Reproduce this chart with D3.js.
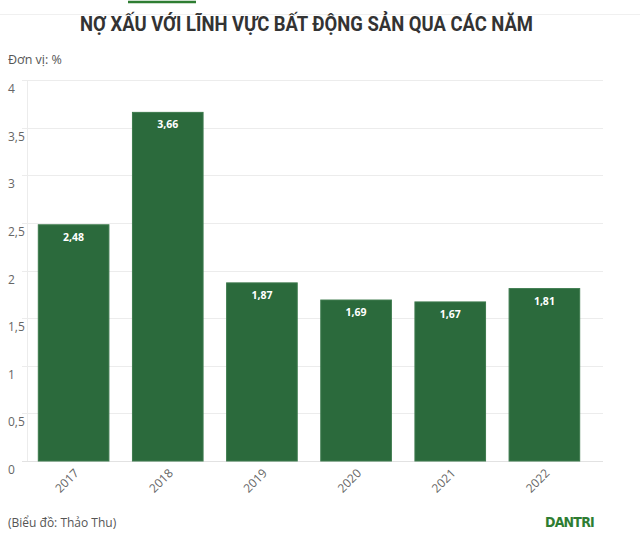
<!DOCTYPE html>
<html><head><meta charset="utf-8">
<script src="https://cdn.jsdelivr.net/npm/d3@7"></script>
<style>body{margin:0;background:#fff}svg{display:block}</style>
</head><body>
<svg id="c" width="640" height="535"></svg>
<script>
const categories = ["2017","2018","2019","2020","2021","2022"];
const values = [2.48,3.66,1.87,1.69,1.67,1.81];
const yTicks = [0,0.5,1,1.5,2,2.5,3,3.5,4];
const title = "NỢ XẤU VỚI LĨNH VỰC BẤT ĐỘNG SẢN QUA CÁC NĂM";

const svg = d3.select("#c");
const fmt = v => String(v).replace(".", ",");
const font = "'Open Sans', sans-serif";

// decorative top lines
svg.append("line").attr("x1",0).attr("x2",640).attr("y1",14.5).attr("y2",14.5).attr("stroke","#f0f0f0");
svg.append("line").attr("x1",128).attr("x2",196).attr("y1",2).attr("y2",2).attr("stroke","#2e7d32").attr("stroke-width",2.5);

svg.append("text").attr("x",306.5).attr("y",31).attr("text-anchor","middle")
  .attr("font-family","Roboto, sans-serif").attr("font-weight","bold").attr("font-size",20)
  .attr("textLength",453).attr("lengthAdjust","spacingAndGlyphs")
  .attr("fill","#333").text(title);

svg.append("text").attr("x",8).attr("y",64).attr("font-family",font).attr("font-size",12.5)
  .attr("fill","#555").text("Đơn vị: %");

const x = d3.scaleBand().domain(categories).range([27,591]).paddingInner(0.25).paddingOuter(0.12);
const y = d3.scaleLinear().domain([0,4]).range([461,80]);

const g = svg.append("g");
g.selectAll("line.grid").data(yTicks).join("line").attr("class","grid")
  .attr("x1",22).attr("x2",603).attr("y1",d=>Math.round(y(d))+0.5).attr("y2",d=>Math.round(y(d))+0.5)
  .attr("stroke",(d)=>d===0?"#e2e2e2":"#ececec");
g.append("line").attr("x1",27.5).attr("x2",27.5).attr("y1",80).attr("y2",461).attr("stroke","#ececec");

g.selectAll("text.yl").data(yTicks).join("text").attr("class","yl")
  .attr("x",8).attr("y",d=>y(d)+13).attr("font-family",font).attr("font-size",12)
  .attr("fill","#666").text(d=>fmt(d));

g.selectAll("rect.bar").data(values).join("rect").attr("class","bar")
  .attr("x",(d,i)=>x(categories[i])).attr("width",x.bandwidth())
  .attr("y",d=>y(d)).attr("height",d=>y(0)-y(d))
  .attr("fill","#2b6a3c").attr("stroke","#3d7a4d").attr("stroke-width",1);

g.selectAll("text.dl").data(values).join("text").attr("class","dl")
  .attr("x",(d,i)=>x(categories[i])+x.bandwidth()/2).attr("y",d=>y(d)+16)
  .attr("text-anchor","middle").attr("font-family",font).attr("font-weight","bold")
  .attr("font-size",10.5).attr("fill","#fff").text(d=>fmt(d));

g.selectAll("text.xl").data(categories).join("text").attr("class","xl")
  .attr("transform",d=>`translate(${x(d)+x.bandwidth()/2+6},${474}) rotate(-45)`)
  .attr("text-anchor","end").attr("font-family",font).attr("font-size",12)
  .attr("fill","#666").text(d=>d);

svg.append("text").attr("x",8).attr("y",527).attr("font-family",font).attr("font-size",12)
  .attr("fill","#555").text("(Biểu đồ: Thảo Thu)");
svg.append("text").attr("x",545).attr("y",527).attr("font-family","'Liberation Sans Narrow', 'DejaVu Sans Condensed', sans-serif")
  .attr("font-weight","bold").attr("font-size",14).attr("letter-spacing",-0.8).attr("fill","#2e7d32").text("DANTRI");
</script>
</body></html>
